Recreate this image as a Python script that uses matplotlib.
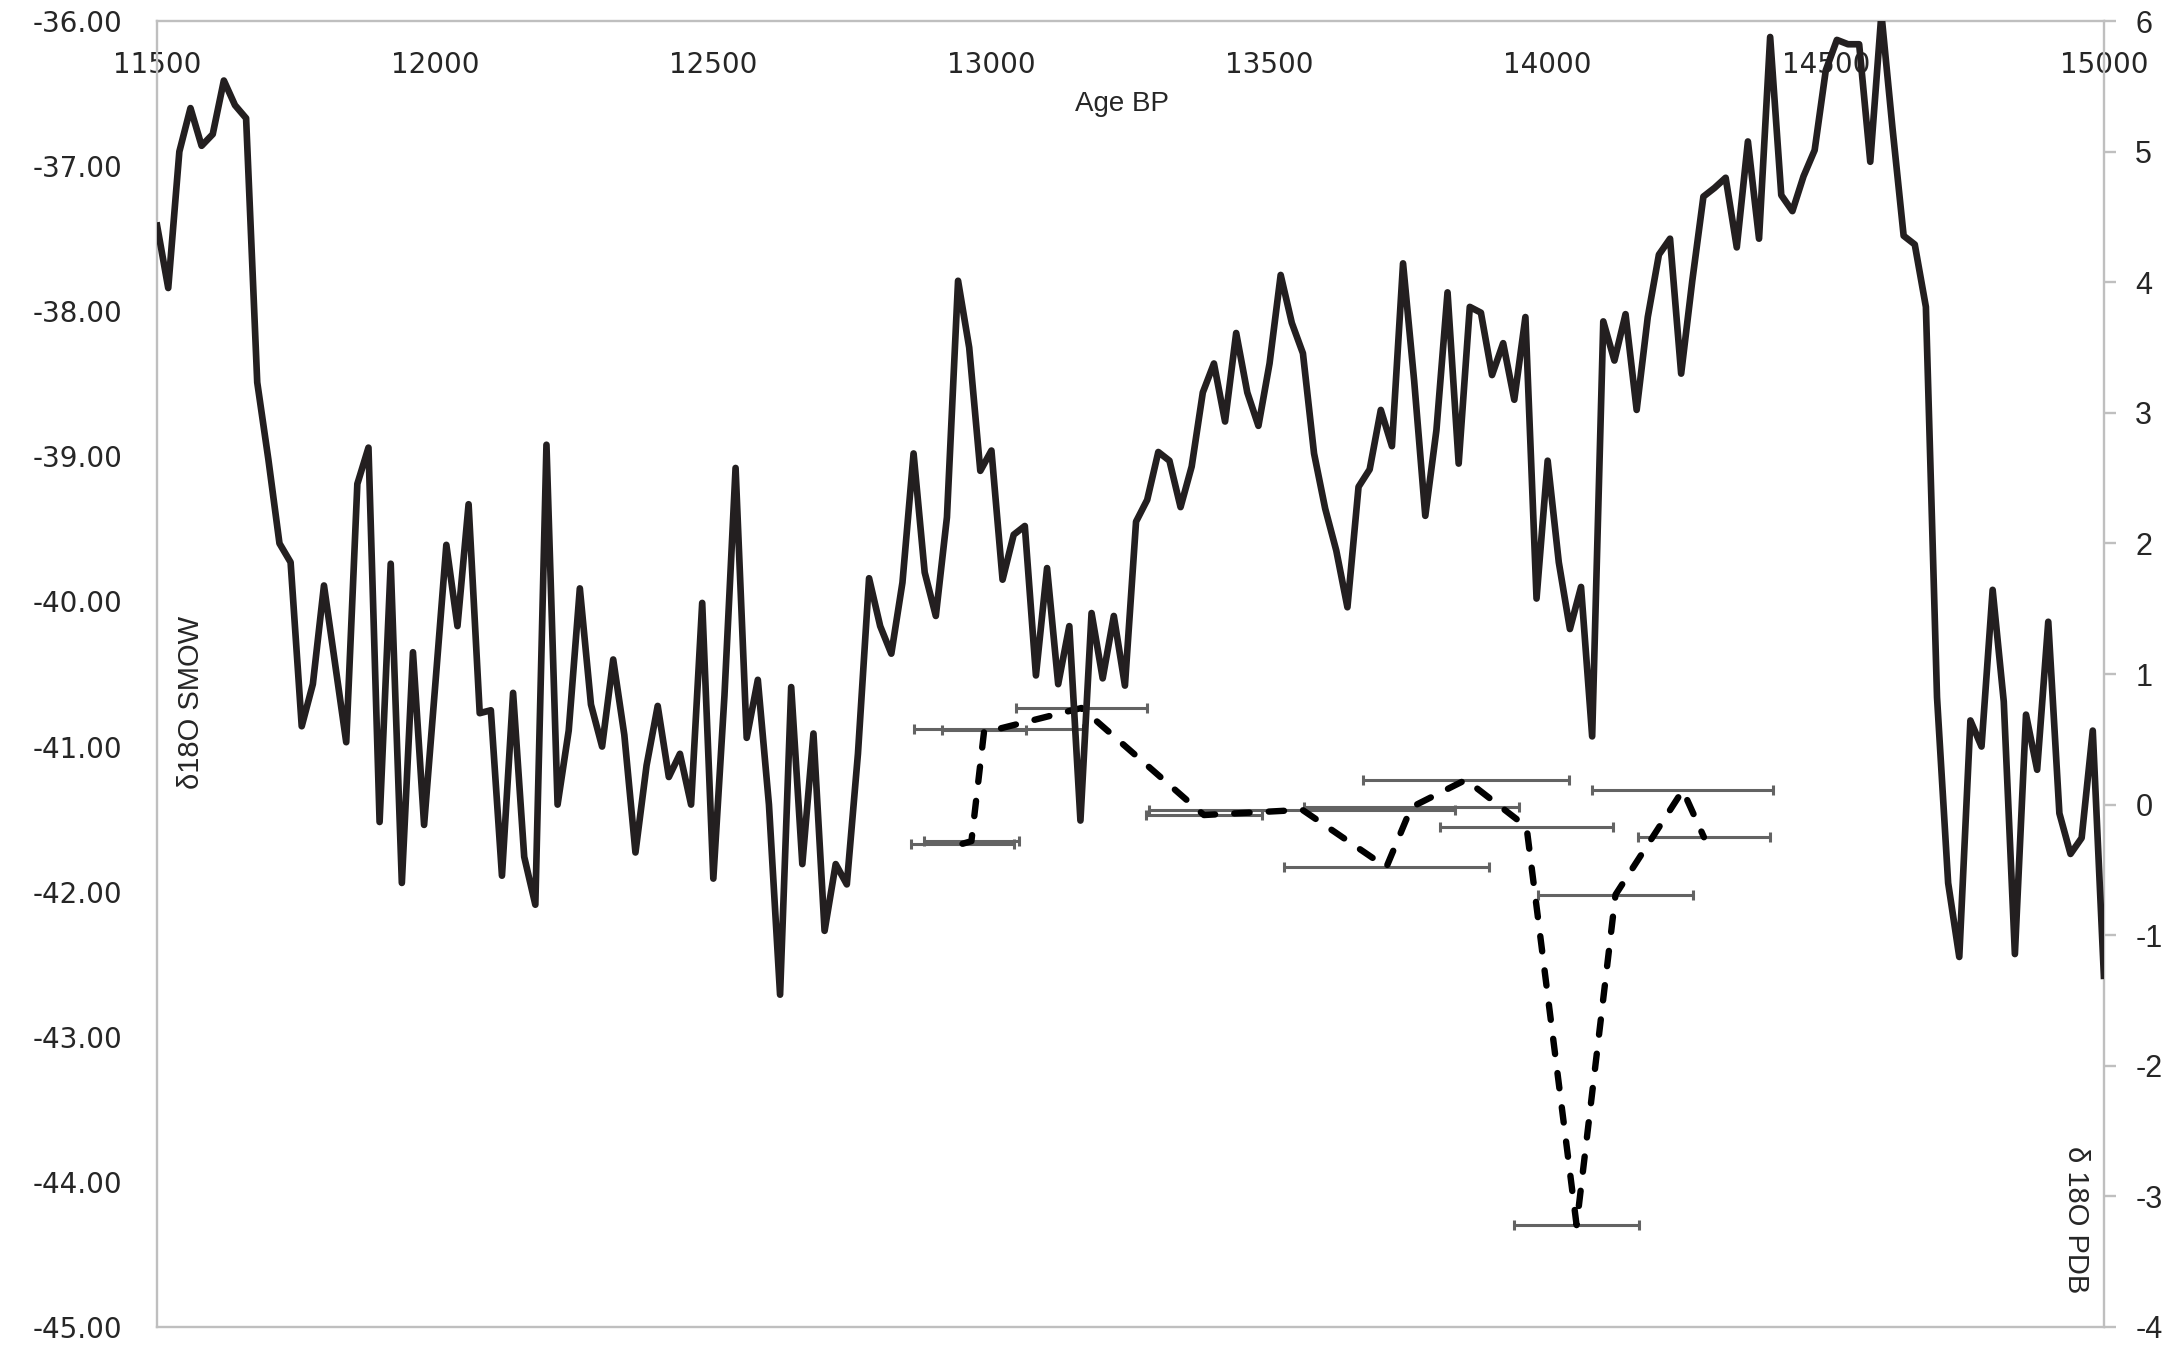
import matplotlib
matplotlib.use("Agg")
import matplotlib.pyplot as plt
import numpy as np

# ice core d18O (SMOW), 20-yr steps 11500..15000 BP
age = np.arange(11500, 15001, 20)
smow = [-37.41, -37.84, -36.90, -36.60, -36.86, -36.78, -36.41, -36.58, -36.67, -38.49,
        -39.02, -39.60, -39.73, -40.86, -40.57, -39.89, -40.43, -40.97, -39.19, -38.94,
        -41.52, -39.74, -41.94, -40.35, -41.54, -40.58, -39.61, -40.17, -39.33, -40.77,
        -40.75, -41.89, -40.63, -41.76, -42.09, -38.92, -41.40, -40.89, -39.91, -40.71,
        -41.00, -40.40, -40.92, -41.73, -41.13, -40.72, -41.21, -41.05, -41.40, -40.01,
        -41.91, -40.65, -39.08, -40.94, -40.54, -41.40, -42.71, -40.59, -41.81, -40.91,
        -42.27, -41.81, -41.95, -41.05, -39.84, -40.17, -40.36, -39.87, -38.98, -39.80,
        -40.10, -39.42, -37.79, -38.25, -39.10, -38.96, -39.85, -39.54, -39.48, -40.51,
        -39.77, -40.57, -40.17, -41.51, -40.08, -40.53, -40.10, -40.58, -39.45, -39.30,
        -38.97, -39.03, -39.35, -39.07, -38.56, -38.36, -38.76, -38.15, -38.56, -38.79,
        -38.36, -37.75, -38.08, -38.29, -38.98, -39.36, -39.65, -40.04, -39.21, -39.09,
        -38.68, -38.93, -37.67, -38.48, -39.41, -38.82, -37.87, -39.05, -37.97, -38.01,
        -38.44, -38.22, -38.61, -38.04, -39.98, -39.03, -39.73, -40.19, -39.90, -40.93,
        -38.07, -38.34, -38.02, -38.68, -38.04, -37.61, -37.50, -38.43, -37.79, -37.21,
        -37.15, -37.08, -37.56, -36.83, -37.50, -36.11, -37.20, -37.31, -37.07, -36.89,
        -36.34, -36.13, -36.16, -36.16, -36.97, -35.95, -36.74, -37.48, -37.54, -37.97,
        -40.66, -41.94, -42.45, -40.82, -41.00, -39.92, -40.69, -42.43, -40.78, -41.16,
        -40.14, -41.46, -41.74, -41.63, -40.89, -42.58]

# dated samples (PDB) with age uncertainty
core_age = [12948, 12964, 12987, 13013, 13162, 13382, 13559, 13710, 13755, 13853,
            13962, 14052, 14122, 14243, 14281]
pdb = [-0.30, -0.28, 0.57, 0.58, 0.74, -0.08, -0.04, -0.48, -0.02, 0.19,
       -0.17, -3.22, -0.69, 0.11, -0.25]
age_err = [92, 85, 75, 152, 117, 105, 275, 184, 193, 185, 155, 113, 140, 163, 118]

smow_ticks = np.arange(-45, -35, 1)
pdb_ticks = np.arange(-4, 7, 1)
x_ticks = np.arange(11500, 15001, 500)

plt.rcParams['axes.unicode_minus'] = False
SPINE = '#bfbfbf'; TXT = '#262626'
NARROW = ['Liberation Sans', 'DejaVu Sans']

fig = plt.figure(figsize=(21.82, 13.48), dpi=100)
axp = fig.add_axes([0.072, 0.0156, 0.8922, 0.9688])
axs = axp.twinx()

# PDB series (right axis) below the ice core curve
axp.errorbar(core_age, pdb, xerr=age_err, fmt='none', ecolor='#636363',
             elinewidth=2.2, capsize=3.6, capthick=2.2, zorder=2)
axp.plot(core_age, pdb, color='black', lw=4.6, dashes=(2.4, 3.0),
         dash_capstyle='round', zorder=3)
axp.set_xlim(11500, 15000)
axp.set_ylim(-4, 6)
axp.set_yticks(pdb_ticks)
axp.set_xticks(x_ticks)
axp.yaxis.tick_right()
axp.tick_params(axis='y', right=True, left=False, labelright=True, labelleft=False,
                length=8.6, width=1.7, color=SPINE, pad=14, labelsize=22, labelcolor=TXT)
for t in axp.get_yticklabels():
    t.set_family(NARROW)
axp.xaxis.tick_top()
axp.tick_params(axis='x', top=True, bottom=False, labeltop=True, labelbottom=False,
                length=0, pad=-42, labelsize=20, labelcolor=TXT)
for s in axp.spines.values():
    s.set_color(SPINE); s.set_linewidth(1.7)

# ice core curve (left axis)
axs.plot(age, smow, color='#231f20', lw=4.8, zorder=3)
axs.set_ylim(-45, -36)
axs.set_yticks(smow_ticks)
axs.set_yticklabels([f'{v:.2f}' for v in smow_ticks])
axs.yaxis.tick_left()
axs.tick_params(axis='y', left=True, right=False, labelleft=True, labelright=False,
                length=0, pad=25, labelsize=20, labelcolor=TXT)
for s in axs.spines.values():
    s.set_visible(False)

axp.text(0.4957, 0.9365, 'Age BP', transform=axp.transAxes, ha='center', va='center',
         fontsize=20, color=TXT, family=NARROW)
axp.text(0.0175, 0.478, 'δ18O SMOW', transform=axp.transAxes, ha='center', va='center',
         rotation=90, fontsize=21, color=TXT, family=NARROW)
axp.text(0.9856, 0.082, 'δ 18O PDB', transform=axp.transAxes, ha='center', va='center',
         rotation=-90, fontsize=21, color=TXT, family=NARROW)

fig.savefig('out.png', dpi=100)
